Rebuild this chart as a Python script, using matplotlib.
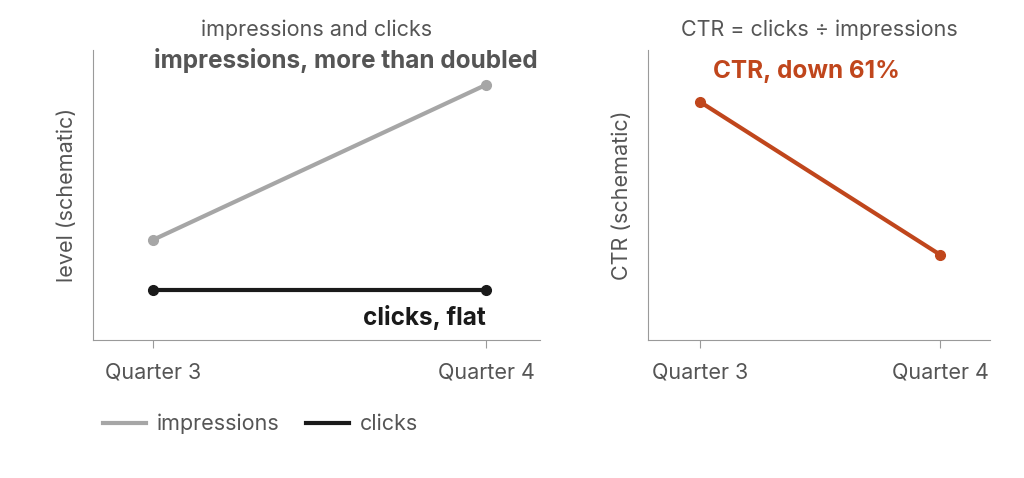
import matplotlib
matplotlib.use("Agg")
import matplotlib.pyplot as plt
from matplotlib.lines import Line2D

plt.rcParams['font.family'] = ['Inter', 'DejaVu Sans']

quarters = ["Quarter 3", "Quarter 4"]
impressions = [2.0, 5.1]
clicks = [1.0, 1.0]
ctr = [c / i for c, i in zip(clicks, impressions)]

GRAY = "#a6a6a6"
BLACK = "#1a1a1a"
ORANGE = "#c0461c"
SPINE = "#9a9a9a"
TXT = "#555555"

fig = plt.figure(figsize=(10.24, 4.78), dpi=100)
ax1 = fig.add_axes([0.091, 0.289, 0.4365, 0.607])
ax2 = fig.add_axes([0.633, 0.289, 0.334, 0.607])

x = [0, 1]
ax1.plot(x, impressions, color=GRAY, lw=3, marker='o', ms=7)
ax1.plot(x, clicks, color=BLACK, lw=3, marker='o', ms=7)
ax1.set_xlim(-0.18, 1.162)
ax1.set_ylim(0, 5.8)
ax1.set_title("impressions and clicks", fontsize=15.5, color=TXT, pad=10)
ax1.set_ylabel("level (schematic)", fontsize=15.5, color=TXT, labelpad=12)
ax1.text(1.155, 5.58, "impressions, more than doubled", ha='right', va='center',
         fontsize=17.5, fontweight='bold', color="#555555")
ax1.text(1.0, 0.45, "clicks, flat", ha='right', va='center',
         fontsize=17.5, fontweight='bold', color=BLACK)

ax2.plot(x, ctr, color=ORANGE, lw=3, marker='o', ms=7)
ax2.set_xlim(-0.217, 1.208)
ax2.set_ylim(0.027, 0.604)
ax2.set_title("CTR = clicks ÷ impressions", fontsize=15.5, color=TXT, pad=10)
ax2.set_ylabel("CTR (schematic)", fontsize=15.5, color=TXT, labelpad=12)
ax2.text(0.055, 0.56, "CTR, down 61%", ha='left', va='center',
         fontsize=17.5, fontweight='bold', color=ORANGE)

for ax in (ax1, ax2):
    for s in ('top', 'right'):
        ax.spines[s].set_visible(False)
    for s in ('left', 'bottom'):
        ax.spines[s].set_color(SPINE)
    ax.set_yticks([])
    ax.set_xticks(x)
    ax.set_xticklabels(quarters, fontsize=15.5, color=TXT)
    ax.tick_params(axis='x', length=6, color=SPINE, pad=10)

handles = [Line2D([], [], color=GRAY, lw=3), Line2D([], [], color=BLACK, lw=3)]
fig.legend(handles, ["impressions", "clicks"], loc='center left',
           bbox_to_anchor=(0.082, 0.113), ncol=2, frameon=False, fontsize=15.5,
           handlelength=2.0, handletextpad=0.5, columnspacing=1.2, labelcolor=TXT)

fig.savefig("out.png", dpi=100)
